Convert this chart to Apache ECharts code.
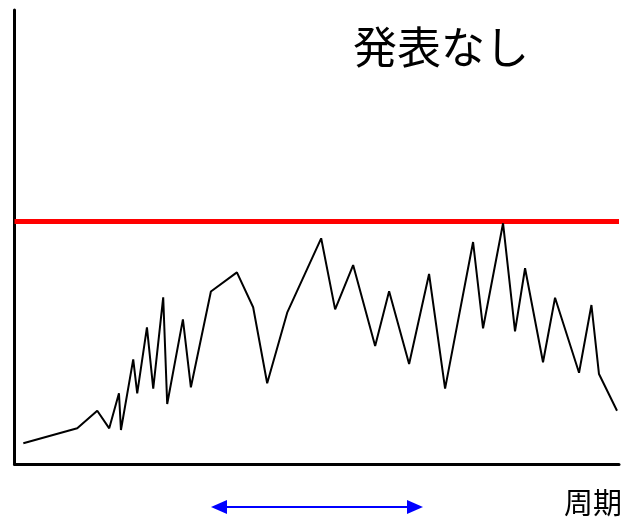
<!DOCTYPE html>
<html>
<head>
<meta charset="utf-8">
<script src="https://cdn.jsdelivr.net/npm/echarts@6/dist/echarts.min.js"></script>
<style>html,body{margin:0;padding:0;background:#fff;}#c{width:623px;height:522px;}</style>
</head>
<body>
<div id="c"></div>
<script>
const xValues = [1.46,10.38,13.69,15.67,17.28,17.61,19.64,20.30,21.91,22.95,24.60,25.26,27.86,29.18,32.49,36.79,39.48,41.80,45.11,50.73,53.04,56.02,59.66,61.97,65.28,68.58,71.23,75.86,77.51,80.82,82.80,84.46,87.43,89.42,93.39,95.44,96.69,99.67];
const yValues = [4.56,7.86,11.74,7.86,15.57,7.49,23.06,15.57,30.11,16.59,36.72,13.22,31.87,16.89,38.0,42.22,34.52,17.78,33.33,49.71,34.07,43.83,25.99,38.04,22.03,41.85,16.59,48.90,29.89,53.02,29.23,43.11,22.40,36.63,20.11,35.02,19.82,11.74];
const thresholdValue = 53.41;
const titleText = '発表なし';
const xAxisLabel = '周期';

const seriesData = xValues.map((x, i) => [x, yValues[i]]);
const chart = echarts.init(document.getElementById('c'), null, {renderer: 'canvas'});
const FONT = '"Noto Sans CJK JP", "Noto Sans", sans-serif';
chart.setOption({
  animation: false,
  backgroundColor: '#fff',
  grid: {left: 14.5, right: 4, top: 10, bottom: 58},
  xAxis: {
    type: 'value', min: 0, max: 100,
    axisLine: {show: true, onZero: false, lineStyle: {color: '#000', width: 3}},
    axisTick: {show: false}, axisLabel: {show: false}, splitLine: {show: false}
  },
  yAxis: {
    type: 'value', min: 0, max: 100,
    axisLine: {show: true, onZero: false, lineStyle: {color: '#000', width: 3}},
    axisTick: {show: false}, axisLabel: {show: false}, splitLine: {show: false}
  },
  series: [{
    type: 'line',
    data: seriesData,
    showSymbol: false,
    lineStyle: {color: '#000', width: 2},
    z: 3,
    markLine: {
      silent: true,
      symbol: ['none', 'none'],
      label: {show: false},
      lineStyle: {color: '#ff0000', width: 5, type: 'solid'},
      data: [{yAxis: thresholdValue}],
      z: 2
    }
  }],
  graphic: [
    {type: 'text', left: 353, top: 25, style: {text: titleText, font: '44px ' + FONT, fill: '#000'}},
    {type: 'text', left: 564, top: 488, style: {text: xAxisLabel, font: '29px ' + FONT, fill: '#000'}},
    {type: 'line', shape: {x1: 222, y1: 507, x2: 412, y2: 507}, style: {stroke: '#0000ff', lineWidth: 2}},
    {type: 'polygon', shape: {points: [[211, 507], [227, 500], [227, 514]]}, style: {fill: '#0000ff'}},
    {type: 'polygon', shape: {points: [[423, 507], [407, 500], [407, 514]]}, style: {fill: '#0000ff'}}
  ]
});
</script>
</body>
</html>
